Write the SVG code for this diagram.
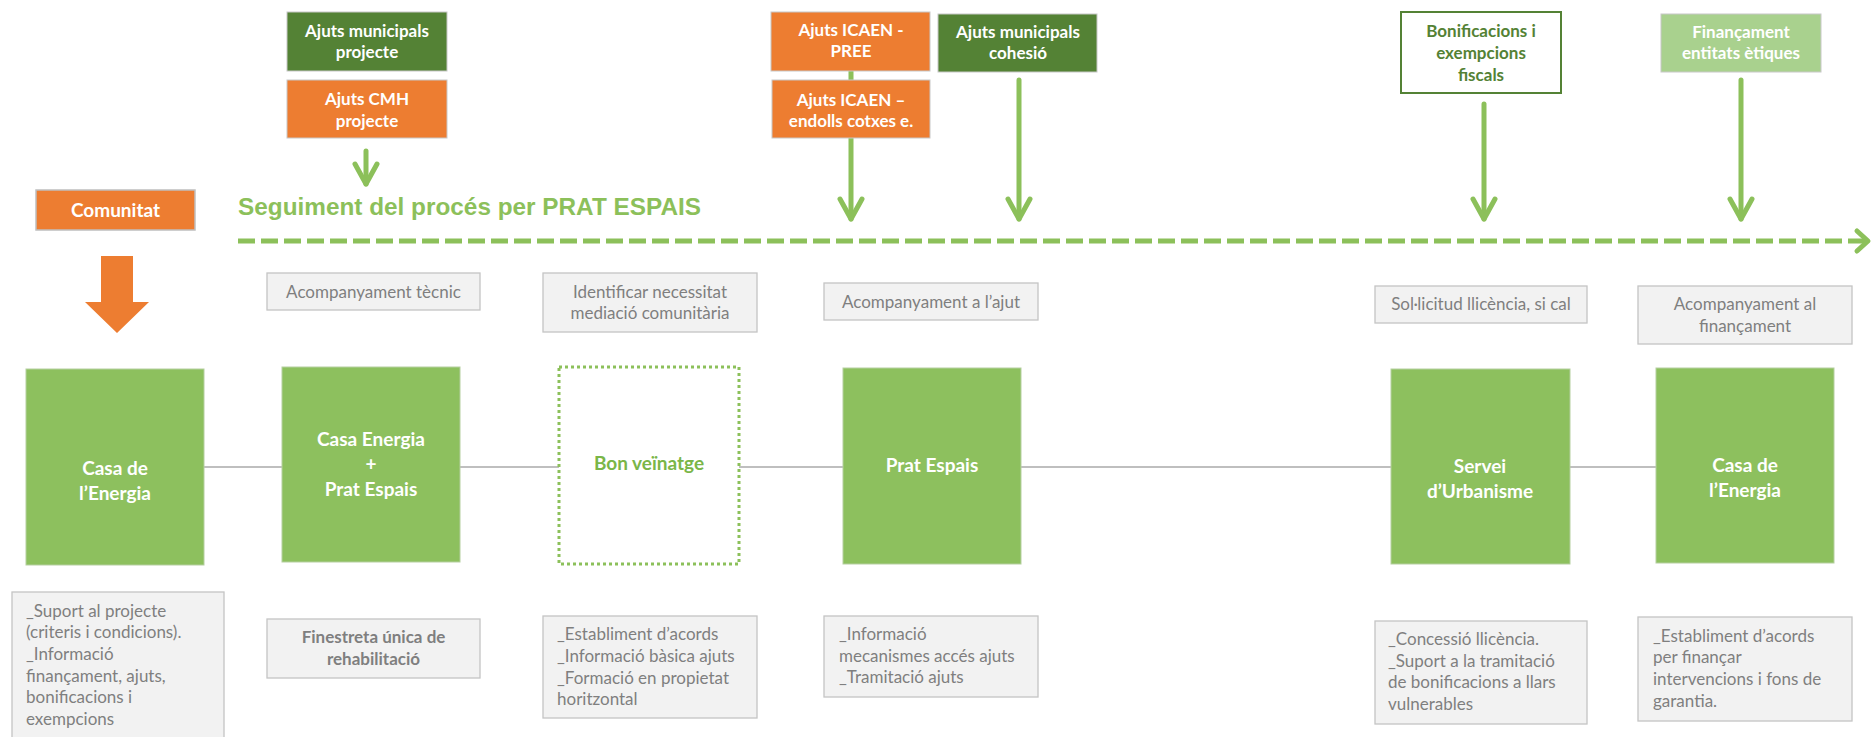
<svg xmlns="http://www.w3.org/2000/svg" width="1872" height="737" viewBox="0 0 1872 737">
<defs>
<style>
.bg{fill:#FFFFFF}
.top{stroke:#C8C8C8;stroke-width:1}
.orange{fill:#ED7D31}
.dgreen{fill:#548235}
.lgreen{fill:#A9D18E}
.node{fill:#8DC05E;stroke:#B5CFA0;stroke-width:1}
.gray{fill:#F2F2F2;stroke:#C4C4C4;stroke-width:1.3}
.wt{font-family:Lato,"Liberation Sans",sans-serif;font-weight:bold;fill:#FFFFFF;text-anchor:middle}
.tb{font-size:17px}
.nt{font-size:19px}
.gt{font-family:Lato,"Liberation Sans",sans-serif;font-size:17px;fill:#7F7F7F}
.gc{text-anchor:middle}
.arr{stroke:#8CC05A;stroke-width:5;fill:none;stroke-linecap:round;stroke-linejoin:round}
</style>
<marker id="chev" markerUnits="userSpaceOnUse" viewBox="-26 -14 30 28" markerWidth="30" markerHeight="28" refX="0" refY="0" orient="auto">
<path d="M-20,-11 L0,0 L-20,11" fill="none" stroke="#8CC05A" stroke-width="5" stroke-linecap="round" stroke-linejoin="round"/>
</marker>
<marker id="chev2" markerUnits="userSpaceOnUse" viewBox="-16 -14 20 28" markerWidth="20" markerHeight="28" refX="0" refY="0" orient="auto">
<path d="M-11,-10 L0,0 L-11,10" fill="none" stroke="#8CC05A" stroke-width="5" stroke-linecap="round" stroke-linejoin="round"/>
</marker>
</defs>
<rect class="bg" x="0" y="0" width="1872" height="737"/>

<g id="connectors">
<line x1="204" y1="467" x2="1656" y2="467" stroke="#BFBFBF" stroke-width="2"/>
<line class="arr" x1="366" y1="151" x2="366" y2="184" marker-end="url(#chev)"/>
<line class="arr" x1="851" y1="71" x2="851" y2="219" marker-end="url(#chev)"/>
<line class="arr" x1="1019" y1="80" x2="1019" y2="219" marker-end="url(#chev)"/>
<line class="arr" x1="1484" y1="104" x2="1484" y2="219" marker-end="url(#chev)"/>
<line class="arr" x1="1741" y1="80" x2="1741" y2="219" marker-end="url(#chev)"/>
<line x1="238" y1="241" x2="1868" y2="241" stroke="#8CC05A" stroke-width="5" stroke-dasharray="17 6" marker-end="url(#chev2)"/>
<polygon points="101,256 133,256 133,302 149,302 117,333 85,302 101,302" fill="#ED7D31"/>
</g>

<g id="title">
<text x="238" y="215" font-family="'Liberation Sans',Arial,sans-serif" font-weight="bold" font-size="24" fill="#8CC05A" textLength="463" lengthAdjust="spacingAndGlyphs">Seguiment del procés per PRAT ESPAIS</text>
</g>

<g id="ajuts-municipals-projecte">
<rect class="dgreen top" x="287" y="12" width="160" height="59"/>
<text class="wt tb" x="367" y="37">Ajuts municipals</text>
<text class="wt tb" x="367" y="58">projecte</text>
</g>
<g id="ajuts-cmh-projecte">
<rect class="orange top" x="287" y="80" width="160" height="58"/>
<text class="wt tb" x="367" y="105">Ajuts CMH</text>
<text class="wt tb" x="367" y="127">projecte</text>
</g>
<g id="comunitat">
<rect class="orange" x="36" y="190" width="159" height="40" stroke="#BFBFBF" stroke-width="1.5"/>
<text class="wt" x="115.5" y="217" font-size="19">Comunitat</text>
</g>
<g id="ajuts-icaen-pree">
<rect class="orange top" x="771" y="12" width="159" height="59"/>
<text class="wt tb" x="851" y="36">Ajuts ICAEN -</text>
<text class="wt tb" x="851" y="57">PREE</text>
</g>
<g id="ajuts-icaen-endolls">
<rect class="orange top" x="772" y="80" width="158" height="58"/>
<text class="wt tb" x="851" y="106">Ajuts ICAEN –</text>
<text class="wt tb" x="851" y="127">endolls cotxes e.</text>
</g>
<g id="ajuts-municipals-cohesio">
<rect class="dgreen top" x="938" y="14" width="159" height="58"/>
<text class="wt tb" x="1018" y="38">Ajuts municipals</text>
<text class="wt tb" x="1018" y="59">cohesió</text>
</g>
<g id="bonificacions">
<rect x="1401" y="12" width="160" height="81" fill="#FFFFFF" stroke="#548235" stroke-width="2"/>
<text class="wt tb" x="1481" y="37" style="fill:#548235">Bonificacions i</text>
<text class="wt tb" x="1481" y="59" style="fill:#548235">exempcions</text>
<text class="wt tb" x="1481" y="81" style="fill:#548235">fiscals</text>
</g>
<g id="financament">
<rect class="lgreen top" x="1661" y="14" width="160" height="58"/>
<text class="wt tb" x="1741" y="38">Finançament</text>
<text class="wt tb" x="1741" y="59">entitats ètiques</text>
</g>

<g id="acompanyament-tecnic">
<rect class="gray" x="267" y="273" width="213" height="37"/>
<text class="gt gc" x="373.5" y="298">Acompanyament tècnic</text>
</g>
<g id="identificar-necessitat">
<rect class="gray" x="543" y="273" width="214" height="59"/>
<text class="gt gc" x="650" y="298">Identificar necessitat</text>
<text class="gt gc" x="650" y="319">mediació comunitària</text>
</g>
<g id="acompanyament-ajut">
<rect class="gray" x="824" y="283" width="214" height="37"/>
<text class="gt gc" x="931" y="308">Acompanyament a l’ajut</text>
</g>
<g id="sollicitud-llicencia">
<rect class="gray" x="1375" y="286" width="212" height="37"/>
<text class="gt gc" x="1481" y="310">Sol·licitud llicència, si cal</text>
</g>
<g id="acompanyament-financament">
<rect class="gray" x="1638" y="286" width="214" height="58"/>
<text class="gt gc" x="1745" y="310">Acompanyament al</text>
<text class="gt gc" x="1745" y="332">finançament</text>
</g>

<g id="casa-energia-1">
<rect class="node" x="26" y="369" width="178" height="196"/>
<text class="wt nt" x="115" y="475">Casa de</text>
<text class="wt nt" x="115" y="500">l’Energia</text>
</g>
<g id="casa-energia-prat-espais">
<rect class="node" x="282" y="367" width="178" height="195"/>
<text class="wt nt" x="371" y="446">Casa Energia</text>
<text class="wt nt" x="371" y="471">+</text>
<text class="wt nt" x="371" y="496">Prat Espais</text>
</g>
<g id="bon-veinatge">
<rect x="559" y="367" width="180" height="197" fill="#FFFFFF" stroke="#8CC05A" stroke-width="3" stroke-dasharray="3 3"/>
<text class="wt nt" x="649" y="470" style="fill:#7AB648">Bon veïnatge</text>
</g>
<g id="prat-espais">
<rect class="node" x="843" y="368" width="178" height="196"/>
<text class="wt nt" x="932" y="472">Prat Espais</text>
</g>
<g id="servei-urbanisme">
<rect class="node" x="1391" y="369" width="179" height="195"/>
<text class="wt nt" x="1480" y="473">Servei</text>
<text class="wt nt" x="1480" y="498">d’Urbanisme</text>
</g>
<g id="casa-energia-2">
<rect class="node" x="1656" y="368" width="178" height="195"/>
<text class="wt nt" x="1745" y="472">Casa de</text>
<text class="wt nt" x="1745" y="497">l’Energia</text>
</g>

<g id="nota-suport">
<rect class="gray" x="12" y="592" width="212" height="150"/>
<text class="gt" x="26" y="617">_Suport al projecte</text>
<text class="gt" x="26" y="638">(criteris i condicions).</text>
<text class="gt" x="26" y="660">_Informació</text>
<text class="gt" x="26" y="682">finançament, ajuts,</text>
<text class="gt" x="26" y="703">bonificacions i</text>
<text class="gt" x="26" y="725">exempcions</text>
</g>
<g id="finestreta-unica">
<rect class="gray" x="267" y="619" width="213" height="59"/>
<text class="gt gc" x="373.5" y="643" font-weight="bold">Finestreta única de</text>
<text class="gt gc" x="373.5" y="665" font-weight="bold">rehabilitació</text>
</g>
<g id="nota-bon-veinatge">
<rect class="gray" x="543" y="616" width="214" height="102"/>
<text class="gt" x="557" y="640">_Establiment d’acords</text>
<text class="gt" x="557" y="662">_Informació bàsica ajuts</text>
<text class="gt" x="557" y="684">_Formació en propietat</text>
<text class="gt" x="557" y="705">horitzontal</text>
</g>
<g id="nota-prat-espais">
<rect class="gray" x="824" y="616" width="214" height="81"/>
<text class="gt" x="839" y="640">_Informació</text>
<text class="gt" x="839" y="662">mecanismes accés ajuts</text>
<text class="gt" x="839" y="683">_Tramitació ajuts</text>
</g>
<g id="nota-servei">
<rect class="gray" x="1375" y="621" width="212" height="103"/>
<text class="gt" x="1388" y="645">_Concessió llicència.</text>
<text class="gt" x="1388" y="667">_Suport a la tramitació</text>
<text class="gt" x="1388" y="688">de bonificacions a llars</text>
<text class="gt" x="1388" y="710">vulnerables</text>
</g>
<g id="nota-casa-2">
<rect class="gray" x="1638" y="617" width="214" height="104"/>
<text class="gt" x="1653" y="642">_Establiment d’acords</text>
<text class="gt" x="1653" y="663">per finançar</text>
<text class="gt" x="1653" y="685">intervencions i fons de</text>
<text class="gt" x="1653" y="707">garantia.</text>
</g>
</svg>
